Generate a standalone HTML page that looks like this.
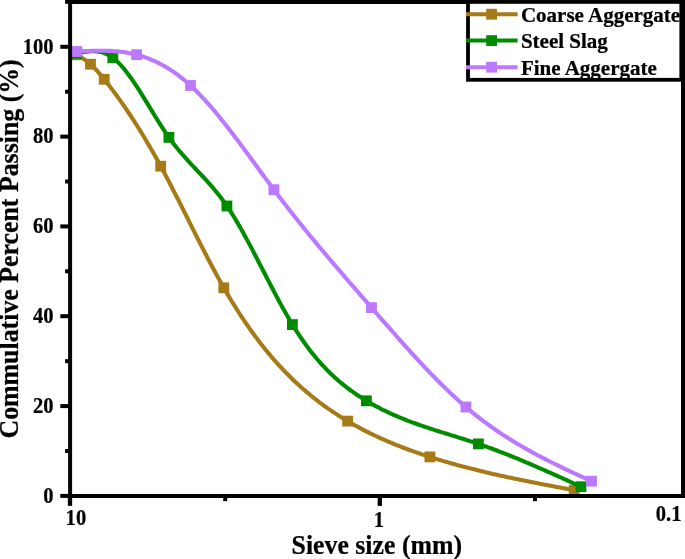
<!DOCTYPE html>
<html><head><meta charset="utf-8"><title>Sieve analysis</title>
<style>
html,body{margin:0;padding:0;background:#fff;}
body{width:685px;height:559px;overflow:hidden;}
svg{display:block;will-change:transform;}
text{font-family:"Liberation Serif","Times New Roman",serif;font-weight:bold;fill:#000;stroke:#000;stroke-width:0.25px;}
.tk{font-size:22.6px;}
.lg{font-size:20.7px;}
.ti{font-size:27.4px;}
</style></head><body>
<svg width="685" height="559" viewBox="0 0 685 559">
<rect x="0" y="0" width="685" height="559" fill="#fff"/>
<g>
<path d="M76.8 54.8 L78.8 56.0 L80.8 57.2 L82.8 58.4 L84.8 59.8 L86.8 61.2 L88.8 62.8 L90.8 64.5 L92.8 66.3 L94.8 68.4 L96.8 70.5 L98.8 72.8 L100.8 75.1 L102.8 77.6 L104.8 80.0 L106.8 82.6 L108.8 85.1 L110.8 87.7 L112.8 90.4 L114.8 93.1 L116.8 95.8 L118.8 98.6 L120.8 101.4 L122.8 104.2 L124.8 107.1 L126.8 110.0 L128.8 113.0 L130.8 116.0 L132.8 119.1 L134.8 122.2 L136.8 125.3 L138.8 128.5 L140.8 131.7 L142.8 135.0 L144.8 138.3 L146.8 141.7 L148.8 145.1 L150.8 148.5 L152.8 152.0 L154.8 155.5 L156.8 159.1 L158.8 162.7 L160.8 166.4 L162.8 170.1 L164.8 173.8 L166.8 177.6 L168.8 181.4 L170.8 185.3 L172.8 189.2 L174.8 193.1 L176.8 197.0 L178.8 200.9 L180.8 204.9 L182.8 208.9 L184.8 212.9 L186.8 216.8 L188.8 220.8 L190.8 224.8 L192.8 228.8 L194.8 232.8 L196.8 236.8 L198.8 240.7 L200.8 244.7 L202.8 248.6 L204.8 252.5 L206.8 256.4 L208.8 260.2 L210.8 264.0 L212.8 267.8 L214.8 271.5 L216.8 275.2 L218.8 278.9 L220.8 282.5 L222.8 286.0 L224.8 289.5 L226.8 293.0 L228.8 296.4 L230.8 299.7 L232.8 303.0 L234.8 306.2 L236.8 309.4 L238.8 312.5 L240.8 315.6 L242.8 318.6 L244.8 321.6 L246.8 324.5 L248.8 327.4 L250.8 330.2 L252.8 333.0 L254.8 335.7 L256.8 338.4 L258.8 341.1 L260.8 343.7 L262.8 346.2 L264.8 348.7 L266.8 351.2 L268.8 353.6 L270.8 356.0 L272.8 358.3 L274.8 360.6 L276.8 362.8 L278.8 365.1 L280.8 367.2 L282.8 369.4 L284.8 371.5 L286.8 373.5 L288.8 375.5 L290.8 377.5 L292.8 379.5 L294.8 381.4 L296.8 383.3 L298.8 385.1 L300.8 386.9 L302.8 388.7 L304.8 390.4 L306.8 392.1 L308.8 393.8 L310.8 395.5 L312.8 397.1 L314.8 398.7 L316.8 400.2 L318.8 401.8 L320.8 403.3 L322.8 404.8 L324.8 406.2 L326.8 407.6 L328.8 409.1 L330.8 410.4 L332.8 411.8 L334.8 413.1 L336.8 414.4 L338.8 415.7 L340.8 417.0 L342.8 418.2 L344.8 419.4 L346.8 420.6 L348.8 421.8 L350.8 423.0 L352.8 424.1 L354.8 425.2 L356.8 426.3 L358.8 427.4 L360.8 428.5 L362.8 429.6 L364.8 430.6 L366.8 431.6 L368.8 432.6 L370.8 433.6 L372.8 434.6 L374.8 435.5 L376.8 436.5 L378.8 437.4 L380.8 438.3 L382.8 439.2 L384.8 440.1 L386.8 441.0 L388.8 441.8 L390.8 442.7 L392.8 443.5 L394.8 444.3 L396.8 445.1 L398.8 445.9 L400.8 446.7 L402.8 447.5 L404.8 448.2 L406.8 449.0 L408.8 449.7 L410.8 450.4 L412.8 451.1 L414.8 451.9 L416.8 452.6 L418.8 453.2 L420.8 453.9 L422.8 454.6 L424.8 455.2 L426.8 455.9 L428.8 456.5 L430.8 457.2 L432.8 457.8 L434.8 458.4 L436.8 459.1 L438.8 459.7 L440.8 460.3 L442.8 460.9 L444.8 461.5 L446.8 462.0 L448.8 462.6 L450.8 463.2 L452.8 463.7 L454.8 464.3 L456.8 464.9 L458.8 465.4 L460.8 465.9 L462.8 466.5 L464.8 467.0 L466.8 467.5 L468.8 468.0 L470.8 468.6 L472.8 469.1 L474.8 469.6 L476.8 470.1 L478.8 470.6 L480.8 471.0 L482.8 471.5 L484.8 472.0 L486.8 472.5 L488.8 472.9 L490.8 473.4 L492.8 473.9 L494.8 474.3 L496.8 474.8 L498.8 475.2 L500.8 475.7 L502.8 476.1 L504.8 476.5 L506.8 477.0 L508.8 477.4 L510.8 477.8 L512.8 478.2 L514.8 478.7 L516.8 479.1 L518.8 479.5 L520.8 479.9 L522.8 480.3 L524.8 480.7 L526.8 481.1 L528.8 481.5 L530.8 481.9 L532.8 482.3 L534.8 482.7 L536.8 483.1 L538.8 483.5 L540.8 483.9 L542.8 484.3 L544.8 484.7 L546.8 485.0 L548.8 485.4 L550.8 485.8 L552.8 486.2 L554.8 486.6 L556.8 486.9 L558.8 487.3 L560.8 487.7 L562.8 488.1 L564.8 488.4 L566.8 488.8 L568.8 489.2 L570.8 489.6 L572.8 489.9 L574.2 490.2" fill="none" stroke="#A67A16" stroke-width="4.1" stroke-linejoin="round"/>
<rect x="71.4" y="49.4" width="10.8" height="10.8" fill="#A67A16"/>
<rect x="85.1" y="58.8" width="10.8" height="10.8" fill="#A67A16"/>
<rect x="98.8" y="73.9" width="10.8" height="10.8" fill="#A67A16"/>
<rect x="155.3" y="160.8" width="10.8" height="10.8" fill="#A67A16"/>
<rect x="218.4" y="282.4" width="10.8" height="10.8" fill="#A67A16"/>
<rect x="342.2" y="415.7" width="10.8" height="10.8" fill="#A67A16"/>
<rect x="424.5" y="451.5" width="10.8" height="10.8" fill="#A67A16"/>
<rect x="568.8" y="484.8" width="10.8" height="10.8" fill="#A67A16"/>
<path d="M76.8 53.4 L78.8 53.0 L80.8 52.6 L82.8 52.2 L84.8 51.9 L86.8 51.6 L88.8 51.4 L90.8 51.2 L92.8 51.2 L94.8 51.2 L96.8 51.4 L98.8 51.7 L100.8 52.1 L102.8 52.6 L104.8 53.3 L106.8 54.2 L108.8 55.2 L110.8 56.4 L112.8 57.8 L114.8 59.4 L116.8 61.1 L118.8 63.1 L120.8 65.2 L122.8 67.4 L124.8 69.8 L126.8 72.4 L128.8 75.0 L130.8 77.8 L132.8 80.6 L134.8 83.6 L136.8 86.6 L138.8 89.7 L140.8 92.9 L142.8 96.1 L144.8 99.3 L146.8 102.6 L148.8 105.8 L150.8 109.1 L152.8 112.4 L154.8 115.7 L156.8 118.9 L158.8 122.1 L160.8 125.3 L162.8 128.4 L164.8 131.4 L166.8 134.4 L168.8 137.3 L170.8 140.0 L172.8 142.7 L174.8 145.3 L176.8 147.8 L178.8 150.3 L180.8 152.6 L182.8 154.9 L184.8 157.2 L186.8 159.4 L188.8 161.6 L190.8 163.8 L192.8 165.9 L194.8 168.0 L196.8 170.2 L198.8 172.3 L200.8 174.4 L202.8 176.5 L204.8 178.7 L206.8 180.9 L208.8 183.1 L210.8 185.4 L212.8 187.7 L214.8 190.0 L216.8 192.5 L218.8 195.0 L220.8 197.6 L222.8 200.2 L224.8 203.0 L226.8 205.9 L228.8 208.8 L230.8 211.9 L232.8 215.0 L234.8 218.3 L236.8 221.6 L238.8 225.0 L240.8 228.5 L242.8 232.1 L244.8 235.7 L246.8 239.4 L248.8 243.1 L250.8 246.8 L252.8 250.6 L254.8 254.5 L256.8 258.3 L258.8 262.2 L260.8 266.1 L262.8 270.0 L264.8 273.8 L266.8 277.7 L268.8 281.6 L270.8 285.5 L272.8 289.3 L274.8 293.1 L276.8 296.9 L278.8 300.7 L280.8 304.4 L282.8 308.0 L284.8 311.6 L286.8 315.1 L288.8 318.6 L290.8 322.0 L292.8 325.3 L294.8 328.5 L296.8 331.6 L298.8 334.7 L300.8 337.6 L302.8 340.5 L304.8 343.3 L306.8 346.1 L308.8 348.8 L310.8 351.4 L312.8 353.9 L314.8 356.3 L316.8 358.7 L318.8 361.0 L320.8 363.3 L322.8 365.5 L324.8 367.6 L326.8 369.7 L328.8 371.7 L330.8 373.7 L332.8 375.6 L334.8 377.4 L336.8 379.2 L338.8 381.0 L340.8 382.7 L342.8 384.3 L344.8 385.9 L346.8 387.5 L348.8 389.0 L350.8 390.5 L352.8 391.9 L354.8 393.3 L356.8 394.7 L358.8 396.0 L360.8 397.3 L362.8 398.6 L364.8 399.8 L366.8 401.0 L368.8 402.2 L370.8 403.4 L372.8 404.5 L374.8 405.6 L376.8 406.7 L378.8 407.7 L380.8 408.8 L382.8 409.8 L384.8 410.7 L386.8 411.7 L388.8 412.6 L390.8 413.6 L392.8 414.5 L394.8 415.3 L396.8 416.2 L398.8 417.1 L400.8 417.9 L402.8 418.7 L404.8 419.5 L406.8 420.3 L408.8 421.1 L410.8 421.8 L412.8 422.6 L414.8 423.3 L416.8 424.0 L418.8 424.7 L420.8 425.4 L422.8 426.1 L424.8 426.8 L426.8 427.4 L428.8 428.1 L430.8 428.8 L432.8 429.4 L434.8 430.1 L436.8 430.7 L438.8 431.3 L440.8 432.0 L442.8 432.6 L444.8 433.2 L446.8 433.8 L448.8 434.4 L450.8 435.1 L452.8 435.7 L454.8 436.3 L456.8 436.9 L458.8 437.6 L460.8 438.2 L462.8 438.8 L464.8 439.4 L466.8 440.1 L468.8 440.7 L470.8 441.4 L472.8 442.0 L474.8 442.7 L476.8 443.4 L478.8 444.0 L480.8 444.7 L482.8 445.4 L484.8 446.1 L486.8 446.8 L488.8 447.6 L490.8 448.3 L492.8 449.0 L494.8 449.8 L496.8 450.5 L498.8 451.3 L500.8 452.1 L502.8 452.8 L504.8 453.6 L506.8 454.4 L508.8 455.2 L510.8 456.0 L512.8 456.8 L514.8 457.6 L516.8 458.4 L518.8 459.2 L520.8 460.1 L522.8 460.9 L524.8 461.8 L526.8 462.6 L528.8 463.4 L530.8 464.3 L532.8 465.2 L534.8 466.0 L536.8 466.9 L538.8 467.8 L540.8 468.6 L542.8 469.5 L544.8 470.4 L546.8 471.3 L548.8 472.2 L550.8 473.0 L552.8 473.9 L554.8 474.8 L556.8 475.7 L558.8 476.6 L560.8 477.5 L562.8 478.4 L564.8 479.3 L566.8 480.2 L568.8 481.2 L570.8 482.1 L572.8 483.0 L574.8 483.9 L576.8 484.8 L578.8 485.7 L580.8 486.6 L581.0 486.7" fill="none" stroke="#008C00" stroke-width="4.1" stroke-linejoin="round"/>
<rect x="71.4" y="48.0" width="10.8" height="10.8" fill="#008C00"/>
<rect x="107.4" y="52.4" width="10.8" height="10.8" fill="#008C00"/>
<rect x="163.5" y="132.0" width="10.8" height="10.8" fill="#008C00"/>
<rect x="221.5" y="200.6" width="10.8" height="10.8" fill="#008C00"/>
<rect x="287.0" y="319.2" width="10.8" height="10.8" fill="#008C00"/>
<rect x="361.0" y="395.4" width="10.8" height="10.8" fill="#008C00"/>
<rect x="473.0" y="438.5" width="10.8" height="10.8" fill="#008C00"/>
<rect x="575.6" y="481.3" width="10.8" height="10.8" fill="#008C00"/>
<path d="M76.8 51.5 L78.8 51.4 L80.8 51.3 L82.8 51.2 L84.8 51.1 L86.8 51.0 L88.8 51.0 L90.8 50.9 L92.8 50.8 L94.8 50.8 L96.8 50.7 L98.8 50.7 L100.8 50.7 L102.8 50.7 L104.8 50.7 L106.8 50.8 L108.8 50.9 L110.8 50.9 L112.8 51.1 L114.8 51.2 L116.8 51.4 L118.8 51.6 L120.8 51.8 L122.8 52.0 L124.8 52.3 L126.8 52.6 L128.8 53.0 L130.8 53.4 L132.8 53.8 L134.8 54.2 L136.8 54.8 L138.8 55.3 L140.8 55.9 L142.8 56.5 L144.8 57.2 L146.8 57.9 L148.8 58.7 L150.8 59.5 L152.8 60.3 L154.8 61.2 L156.8 62.2 L158.8 63.1 L160.8 64.2 L162.8 65.3 L164.8 66.4 L166.8 67.6 L168.8 68.8 L170.8 70.1 L172.8 71.4 L174.8 72.8 L176.8 74.2 L178.8 75.7 L180.8 77.3 L182.8 78.9 L184.8 80.5 L186.8 82.2 L188.8 84.0 L190.8 85.8 L192.8 87.6 L194.8 89.6 L196.8 91.5 L198.8 93.6 L200.8 95.6 L202.8 97.8 L204.8 99.9 L206.8 102.1 L208.8 104.4 L210.8 106.7 L212.8 109.0 L214.8 111.4 L216.8 113.8 L218.8 116.2 L220.8 118.7 L222.8 121.2 L224.8 123.7 L226.8 126.2 L228.8 128.8 L230.8 131.4 L232.8 134.0 L234.8 136.7 L236.8 139.3 L238.8 142.0 L240.8 144.7 L242.8 147.4 L244.8 150.1 L246.8 152.8 L248.8 155.5 L250.8 158.3 L252.8 161.0 L254.8 163.7 L256.8 166.5 L258.8 169.2 L260.8 172.0 L262.8 174.7 L264.8 177.4 L266.8 180.1 L268.8 182.8 L270.8 185.5 L272.8 188.2 L274.8 190.9 L276.8 193.6 L278.8 196.2 L280.8 198.8 L282.8 201.4 L284.8 204.0 L286.8 206.6 L288.8 209.2 L290.8 211.7 L292.8 214.3 L294.8 216.8 L296.8 219.3 L298.8 221.8 L300.8 224.3 L302.8 226.8 L304.8 229.2 L306.8 231.7 L308.8 234.2 L310.8 236.6 L312.8 239.0 L314.8 241.4 L316.8 243.9 L318.8 246.3 L320.8 248.6 L322.8 251.0 L324.8 253.4 L326.8 255.8 L328.8 258.2 L330.8 260.5 L332.8 262.9 L334.8 265.2 L336.8 267.5 L338.8 269.9 L340.8 272.2 L342.8 274.5 L344.8 276.9 L346.8 279.2 L348.8 281.5 L350.8 283.8 L352.8 286.1 L354.8 288.4 L356.8 290.7 L358.8 293.0 L360.8 295.3 L362.8 297.6 L364.8 299.9 L366.8 302.2 L368.8 304.5 L370.8 306.8 L372.8 309.1 L374.8 311.4 L376.8 313.7 L378.8 316.0 L380.8 318.3 L382.8 320.6 L384.8 322.9 L386.8 325.1 L388.8 327.4 L390.8 329.7 L392.8 332.0 L394.8 334.2 L396.8 336.5 L398.8 338.8 L400.8 341.0 L402.8 343.3 L404.8 345.5 L406.8 347.7 L408.8 349.9 L410.8 352.1 L412.8 354.3 L414.8 356.5 L416.8 358.7 L418.8 360.9 L420.8 363.0 L422.8 365.1 L424.8 367.3 L426.8 369.4 L428.8 371.5 L430.8 373.6 L432.8 375.6 L434.8 377.7 L436.8 379.7 L438.8 381.7 L440.8 383.7 L442.8 385.7 L444.8 387.6 L446.8 389.6 L448.8 391.5 L450.8 393.4 L452.8 395.3 L454.8 397.1 L456.8 399.0 L458.8 400.8 L460.8 402.6 L462.8 404.3 L464.8 406.1 L466.8 407.8 L468.8 409.5 L470.8 411.1 L472.8 412.8 L474.8 414.4 L476.8 416.0 L478.8 417.5 L480.8 419.1 L482.8 420.6 L484.8 422.1 L486.8 423.6 L488.8 425.0 L490.8 426.5 L492.8 427.9 L494.8 429.3 L496.8 430.7 L498.8 432.0 L500.8 433.4 L502.8 434.7 L504.8 436.0 L506.8 437.3 L508.8 438.6 L510.8 439.8 L512.8 441.0 L514.8 442.3 L516.8 443.5 L518.8 444.7 L520.8 445.8 L522.8 447.0 L524.8 448.1 L526.8 449.3 L528.8 450.4 L530.8 451.5 L532.8 452.6 L534.8 453.7 L536.8 454.8 L538.8 455.8 L540.8 456.9 L542.8 457.9 L544.8 458.9 L546.8 460.0 L548.8 461.0 L550.8 462.0 L552.8 463.0 L554.8 464.0 L556.8 464.9 L558.8 465.9 L560.8 466.9 L562.8 467.9 L564.8 468.8 L566.8 469.8 L568.8 470.7 L570.8 471.6 L572.8 472.6 L574.8 473.5 L576.8 474.4 L578.8 475.4 L580.8 476.3 L582.8 477.2 L584.8 478.1 L586.8 479.0 L588.8 480.0 L590.8 480.9 L591.5 481.2" fill="none" stroke="#BC78FF" stroke-width="4.1" stroke-linejoin="round"/>
<rect x="71.4" y="46.1" width="10.8" height="10.8" fill="#BC78FF"/>
<rect x="131.2" y="49.3" width="10.8" height="10.8" fill="#BC78FF"/>
<rect x="185.1" y="80.1" width="10.8" height="10.8" fill="#BC78FF"/>
<rect x="268.5" y="184.3" width="10.8" height="10.8" fill="#BC78FF"/>
<rect x="366.1" y="302.2" width="10.8" height="10.8" fill="#BC78FF"/>
<rect x="460.5" y="401.6" width="10.8" height="10.8" fill="#BC78FF"/>
<rect x="586.1" y="475.8" width="10.8" height="10.8" fill="#BC78FF"/>
</g>
<g stroke="#000" stroke-width="4.0" fill="none" stroke-linecap="butt">
<path d="M68.1 495.9 H685.1"/>
<path d="M68.1 1.9 H685.1"/>
<path d="M70.1 1.9 V495.9"/>
<path d="M683.1 1.9 V495.9"/>
<path d="M60.3 495.9 H70.1"/>
<path d="M60.3 406.1 H70.1"/>
<path d="M60.3 316.2 H70.1"/>
<path d="M60.3 226.4 H70.1"/>
<path d="M60.3 136.6 H70.1"/>
<path d="M60.3 46.8 H70.1"/>
<path d="M65.1 451.0 H70.1"/>
<path d="M65.1 361.2 H70.1"/>
<path d="M65.1 271.3 H70.1"/>
<path d="M65.1 181.5 H70.1"/>
<path d="M65.1 91.7 H70.1"/>
<path d="M65.1 1.8 H70.1"/>
<path d="M70.0 495.9 V505.9" stroke-width="4.3"/>
<path d="M379.8 495.9 V505.9" stroke-width="4.3"/>
<path d="M225.2 495.9 V501.2"/>
<path d="M535.0 495.9 V501.2"/>
</g>
<text class="tk" transform="translate(53.60 502.80) scale(0.9100 1)" text-anchor="end">0</text>
<text class="tk" transform="translate(53.60 412.97) scale(0.9100 1)" text-anchor="end">20</text>
<text class="tk" transform="translate(53.60 323.14) scale(0.9100 1)" text-anchor="end">40</text>
<text class="tk" transform="translate(53.60 233.31) scale(0.9100 1)" text-anchor="end">60</text>
<text class="tk" transform="translate(53.60 143.48) scale(0.9100 1)" text-anchor="end">80</text>
<text class="tk" transform="translate(53.60 53.65) scale(0.9100 1)" text-anchor="end">100</text>
<text class="tk" transform="translate(65.60 525.00) scale(0.9100 1)" text-anchor="start">10</text>
<text class="tk" transform="translate(379.00 526.70) scale(0.9100 1)" text-anchor="middle">1</text>
<text class="tk" transform="translate(681.50 520.50) scale(0.9100 1)" text-anchor="end">0.1</text>
<text class="ti" transform="translate(376.80 553.80) scale(0.9420 1)" text-anchor="middle">Sieve size (mm)</text>
<text class="ti" transform="translate(18.00 248.90) rotate(-90) scale(0.9440 1)" text-anchor="middle">Commulative Percent Passing (%)</text>
<g>
<rect x="468" y="1.9" width="213.3" height="77.9" fill="#fff" stroke="#000" stroke-width="3.8"/>
<path d="M466 14.2 H517.6" stroke="#A67A16" stroke-width="4.0" fill="none"/>
<rect x="486.2" y="8.8" width="10.8" height="10.8" fill="#A67A16"/>
<text class="lg" transform="translate(520.90 21.70) scale(1.0150 1)" text-anchor="start">Coarse Aggergate</text>
<path d="M466 40.6 H517.6" stroke="#008C00" stroke-width="4.0" fill="none"/>
<rect x="486.2" y="35.2" width="10.8" height="10.8" fill="#008C00"/>
<text class="lg" transform="translate(520.90 48.10) scale(1.0150 1)" text-anchor="start">Steel Slag</text>
<path d="M466 67.2 H517.6" stroke="#BC78FF" stroke-width="4.0" fill="none"/>
<rect x="486.2" y="61.8" width="10.8" height="10.8" fill="#BC78FF"/>
<text class="lg" transform="translate(520.90 74.70) scale(1.0150 1)" text-anchor="start">Fine Aggergate</text>
</g>
<path d="M683.1 0.0 V497.9" stroke="#000" stroke-width="4.0"/>
</svg>
</body></html>
